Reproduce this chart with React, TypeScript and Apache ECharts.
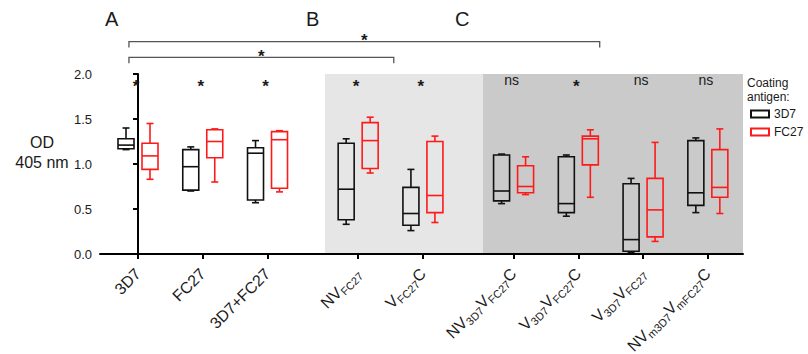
import React, { useEffect, useRef } from 'react';
import * as echarts from 'echarts';

// ---------- data ----------
const categoryLabels = [
  '{b|3D7}',
  '{b|FC27}',
  '{b|3D7+FC27}',
  '{b|NV}{s|FC27}',
  '{b|V}{s|FC27}{b|C}',
  '{b|NV}{s|3D7}{b|V}{s|FC27}{b|C}',
  '{b|V}{s|3D7}{b|V}{s|FC27}{b|C}',
  '{b|V}{s|3D7}{b|V}{s|FC27}',
  '{b|NV}{s|m3D7}{b|V}{s|mFC27}{b|C}',
];
const categoryPositions = [0, 1, 2, 3.4, 4.4, 5.8, 6.8, 7.8, 8.8];

// [min, Q1, median, Q3, max]
const box3D7 = [
  [1.16, 1.17, 1.21, 1.28, 1.40],
  [0.70, 0.71, 0.97, 1.16, 1.19],
  [0.57, 0.60, 1.12, 1.18, 1.26],
  [0.33, 0.38, 0.72, 1.23, 1.28],
  [0.26, 0.32, 0.45, 0.74, 0.94],
  [0.56, 0.59, 0.70, 1.10, 1.11],
  [0.42, 0.46, 0.56, 1.08, 1.10],
  [0.02, 0.03, 0.16, 0.78, 0.84],
  [0.46, 0.54, 0.68, 1.26, 1.29],
];
const boxFC27 = [
  [0.83, 0.94, 1.09, 1.23, 1.45],
  [0.80, 1.07, 1.25, 1.38, 1.39],
  [0.69, 0.73, 1.27, 1.36, 1.37],
  [0.90, 0.95, 1.26, 1.46, 1.52],
  [0.35, 0.46, 0.65, 1.25, 1.31],
  [0.66, 0.68, 0.75, 0.98, 1.08],
  [0.63, 0.99, 1.28, 1.31, 1.38],
  [0.14, 0.19, 0.49, 0.84, 1.24],
  [0.45, 0.63, 0.74, 1.16, 1.39],
];
const significance = ['*', '*', '*', '*', '*', 'ns', '*', 'ns', 'ns'];
const significanceLevel = 1.9;
// [x start, x end, level]
const brackets = [
  [-0.14, 7.13, 2.36],
  [-0.14, 3.95, 2.185],
];
const bracketLabels = ['*', '*'];
// shaded groups B and C: [x start, x end]
const regions = [
  [2.887, 5.327],
  [5.327, 9.343],
];
const seriesNames = ['3D7', 'FC27'];
const yTicks = [0, 0.5, 1.0, 1.5, 2.0];

// ---------- style ----------
const FONT = '"Liberation Sans", Arial, sans-serif';
const regionColors = ['#e6e6e6', '#cacaca'];
const seriesColors = ['#111111', '#ff1a1a'];
const TEXT = '#1a1a1a';

function boxRenderer(offset: number, color: string) {
  return (params: any, api: any) => {
    const x = api.value(0);
    const vMin = api.value(1), q1 = api.value(2), med = api.value(3), q3 = api.value(4), vMax = api.value(5);
    const c = api.coord([x, 0])[0] + offset;
    const yMin = api.coord([x, vMin])[1];
    const yQ1 = api.coord([x, q1])[1];
    const yMed = api.coord([x, med])[1];
    const yQ3 = api.coord([x, q3])[1];
    const yMax = api.coord([x, vMax])[1];
    const hw = 8, cw = 3.5;
    const st = { stroke: color, lineWidth: 1.6, fill: 'none' };
    return {
      type: 'group',
      children: [
        { type: 'line', shape: { x1: c, y1: yMax, x2: c, y2: yQ3 }, style: st },
        { type: 'line', shape: { x1: c, y1: yQ1, x2: c, y2: yMin }, style: st },
        { type: 'line', shape: { x1: c - cw, y1: yMax, x2: c + cw, y2: yMax }, style: st },
        { type: 'line', shape: { x1: c - cw, y1: yMin, x2: c + cw, y2: yMin }, style: st },
        { type: 'rect', shape: { x: c - hw, y: yQ3, width: hw * 2, height: yQ1 - yQ3 }, style: st },
        { type: 'line', shape: { x1: c - hw, y1: yMed, x2: c + hw, y2: yMed }, style: st },
      ],
    };
  };
}

export default function App() {
  const ref = useRef<HTMLDivElement>(null);
  useEffect(() => {
    if (!ref.current) return;
    const chart = echarts.init(ref.current, undefined, { renderer: 'svg' });
    const labelFor = (v: number) => {
      const i = categoryPositions.findIndex((p) => Math.abs(p - v) < 1e-6);
      return i >= 0 ? categoryLabels[i] : '';
    };
    const staticGraphics = [
      { id: 'lA', type: 'text', left: 105, top: 9, style: { text: 'A', fontSize: 20, fontFamily: FONT, fill: TEXT } },
      { id: 'lB', type: 'text', left: 306, top: 9, style: { text: 'B', fontSize: 20, fontFamily: FONT, fill: TEXT } },
      { id: 'lC', type: 'text', left: 455, top: 9, style: { text: 'C', fontSize: 20, fontFamily: FONT, fill: TEXT } },
      {
        id: 'ytitle', type: 'text', x: 42, y: 152,
        style: { text: 'OD\n405 nm', fontSize: 16, lineHeight: 20, fontFamily: FONT, fill: TEXT, align: 'center', verticalAlign: 'middle' },
      },
      {
        id: 'legtitle', type: 'text', x: 747, y: 76,
        style: { text: 'Coating\nantigen:', fontSize: 12, lineHeight: 14, fontFamily: FONT, fill: TEXT, align: 'left', verticalAlign: 'top' },
      },
    ];
    chart.setOption({
      animation: false,
      textStyle: { fontFamily: FONT },
      grid: { left: 100, right: 65, top: 74, bottom: 100, containLabel: false, outerBoundsMode: 'none' },
      xAxis: {
        type: 'value',
        min: -0.587,
        max: 9.343,
        splitLine: { show: false },
        axisLine: { lineStyle: { color: '#000', width: 2 } },
        axisTick: { customValues: categoryPositions, length: 5, lineStyle: { color: '#000', width: 2 } },
        axisLabel: {
          customValues: categoryPositions,
          rotate: 45,
          margin: 17,
          formatter: (v: number) => labelFor(v),
          rich: {
            b: { fontSize: 16, fontFamily: FONT, color: TEXT, lineHeight: 18, verticalAlign: 'middle' },
            s: { fontSize: 11, fontFamily: FONT, color: TEXT, lineHeight: 18, padding: [9, 0, 0, 0], verticalAlign: 'middle' },
          },
        },
      },
      yAxis: {
        type: 'value',
        min: 0,
        max: 2,
        interval: 0.5,
        splitLine: { show: false },
        axisLine: { show: true, lineStyle: { color: '#000', width: 2 } },
        axisTick: { show: true, length: 5, lineStyle: { color: '#000', width: 2 } },
        axisLabel: {
          fontSize: 13,
          color: TEXT,
          margin: 8,
          fontFamily: FONT,
          formatter: (v: number) => (yTicks.some((t) => Math.abs(t - v) < 1e-6) ? v.toFixed(1) : ''),
        },
      },
      legend: {
        orient: 'vertical',
        left: 745,
        top: 103,
        itemWidth: 18,
        itemHeight: 7,
        itemGap: 6,
        icon: 'rect',
        textStyle: { fontSize: 12, color: TEXT, fontFamily: FONT },
        data: seriesNames.map((n, i) => ({
          name: n,
          itemStyle: { color: '#ffffff', borderColor: seriesColors[i], borderWidth: 2 },
        })),
      },
      graphic: { elements: staticGraphics },
      series: [
        {
          type: 'custom',
          name: 'regions',
          z: -1,
          silent: true,
          encode: { x: [0, 1] },
          data: regions,
          renderItem: (params: any, api: any) => {
            const p1 = api.coord([api.value(0), 2]);
            const p2 = api.coord([api.value(1), 0]);
            return {
              type: 'rect',
              shape: { x: p1[0], y: p1[1], width: p2[0] - p1[0], height: p2[1] - p1[1] },
              style: { fill: regionColors[params.dataIndex] },
            };
          },
        },
        {
          type: 'custom',
          name: seriesNames[0],
          z: 3,
          itemStyle: { color: seriesColors[0] },
          encode: { x: 0, y: [1, 2, 3, 4, 5] },
          data: box3D7.map((b, i) => [categoryPositions[i], ...b]),
          renderItem: boxRenderer(-12, seriesColors[0]),
        },
        {
          type: 'custom',
          name: seriesNames[1],
          z: 3,
          itemStyle: { color: seriesColors[1] },
          encode: { x: 0, y: [1, 2, 3, 4, 5] },
          data: boxFC27.map((b, i) => [categoryPositions[i], ...b]),
          renderItem: boxRenderer(12, seriesColors[1]),
        },
        {
          type: 'custom',
          name: 'brackets',
          z: 4,
          silent: true,
          clip: false,
          encode: { x: [0, 1], y: 2 },
          data: brackets,
          renderItem: (params: any, api: any) => {
            const a = api.coord([api.value(0), api.value(2)]);
            const b = api.coord([api.value(1), api.value(2)]);
            const drop = 6;
            const st = { stroke: '#555', lineWidth: 1.3, fill: 'none' };
            return {
              type: 'group',
              children: [
                {
                  type: 'polyline',
                  shape: { points: [[a[0], a[1] + drop], [a[0], a[1]], [b[0], b[1]], [b[0], b[1] + drop]] },
                  style: st,
                },
                {
                  type: 'text',
                  x: (a[0] + b[0]) / 2,
                  y: a[1] - 1,
                  style: {
                    text: bracketLabels[params.dataIndex],
                    fontSize: 17,
                    fontWeight: 'bold',
                    fontFamily: FONT,
                    fill: TEXT,
                    align: 'center',
                    verticalAlign: 'middle',
                  },
                },
              ],
            };
          },
        },
      ],
    });
    // significance marks placed through the chart's own coordinate conversion
    const sigGraphics = categoryPositions.map((p, i) => {
      const pt = chart.convertToPixel({ gridIndex: 0 }, [p, significanceLevel]) as number[];
      const star = significance[i] === '*';
      return {
        id: 'sig' + i,
        type: 'text',
        z: 100,
        x: pt[0] - 2,
        y: pt[1] + (star ? 3 : -3),
        style: {
          text: significance[i],
          fontSize: star ? 17 : 14,
          fontWeight: star ? 'bold' : 'normal',
          fontFamily: FONT,
          fill: TEXT,
          align: 'center',
          verticalAlign: 'middle',
        },
      };
    });
    chart.setOption({ graphic: { elements: [...staticGraphics, ...sigGraphics] } });
    return () => chart.dispose();
  }, []);
  return <div ref={ref} style={{ width: 808, height: 354, position: 'absolute', left: 0, top: 0 }} />;
}
